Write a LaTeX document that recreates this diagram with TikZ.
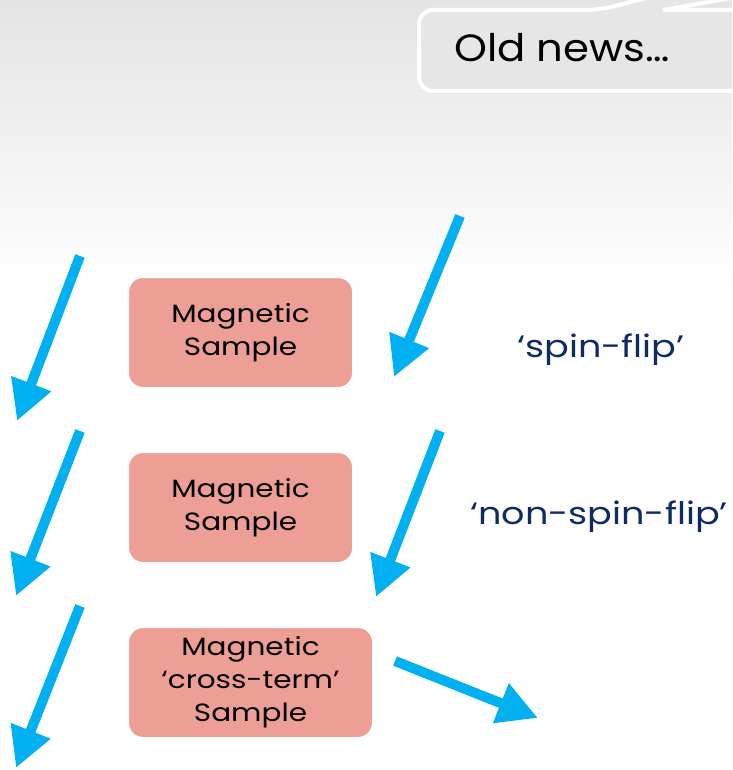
\documentclass[tikz,border=0pt]{standalone}
\usepackage{fontspec}
\setmainfont{Poppins}[FakeStretch=1.18]
\newfontfamily\calloutfont{Poppins}[FakeStretch=1.1]
\usetikzlibrary{arrows.meta}
\definecolor{arrowblue}{HTML}{00B0F0}
\definecolor{samplefill}{HTML}{EE9F95}
\definecolor{labelnavy}{HTML}{102A66}
\definecolor{calloutfill}{HTML}{E6E6E6}
\definecolor{bgtop}{HTML}{E4E4E4}
\tikzset{
  beam/.style={draw=arrowblue, line width=10pt, -{Triangle[length=40pt,width=40pt]}},
  samplebox/.style={fill=samplefill, draw=white, line width=2pt, rounded corners=15pt,
    align=center, font=\fontsize{25}{33}\selectfont, text=black, inner sep=0pt},
  spinlabel/.style={text=labelnavy, font=\fontsize{31}{37}\selectfont, inner sep=0pt}
}
\begin{document}
\begin{tikzpicture}[x=1pt,y=-1pt]
\useasboundingbox (0,0) rectangle (732,770);
\begin{scope}
\clip (0,0) rectangle (732,770);
\shade[top color=bgtop, bottom color=white] (0,0) rectangle (732,290);
\fill[white] (0,290) rectangle (732,770);
% callout with tail
\draw[fill=calloutfill, draw=white, line width=4pt, rounded corners=14pt]
  (419,91) -- (419,10) -- (600,10) [sharp corners] -- (800,-42) -- (800,-14) -- (663,10) [rounded corners=14pt] -- (745,10) -- (745,91) -- cycle;
\end{scope}
\node[font=\calloutfont\fontsize{38}{44}\selectfont, inner sep=0pt] (old) at (562,48) {Old news\ldots};

\node[samplebox, minimum width=225pt, minimum height=111pt] (s1) at (240.5,332.5) {Magnetic\\Sample};
\node[samplebox, minimum width=225pt, minimum height=111pt] (s2) at (240.5,507.5) {Magnetic\\Sample};
\node[samplebox, minimum width=245pt, minimum height=111pt] (s3) at (250.5,682.5) {Magnetic\\`cross-term'\\Sample};

\node[spinlabel] (sf) at (601,350) {`spin-flip'};
\node[spinlabel] (nsf) at (599,517) {`non-spin-flip'};

\coordinate (a1s) at (80,256); \coordinate (a1e) at (17,421);
\coordinate (a2s) at (80,431); \coordinate (a2e) at (16,596);
\coordinate (a3s) at (80,606); \coordinate (a3e) at (16,768);
\coordinate (a4s) at (460,216); \coordinate (a4e) at (394,377);
\coordinate (a5s) at (440,431); \coordinate (a5e) at (376,597);
\coordinate (a6s) at (395,661); \coordinate (a6e) at (538,718);

\draw[beam] (a1s) -- (a1e);
\draw[beam] (a2s) -- (a2e);
\draw[beam] (a3s) -- (a3e);
\draw[beam] (a4s) -- (a4e);
\draw[beam] (a5s) -- (a5e);
\draw[beam] (a6s) -- (a6e);
\end{tikzpicture}
\end{document}
